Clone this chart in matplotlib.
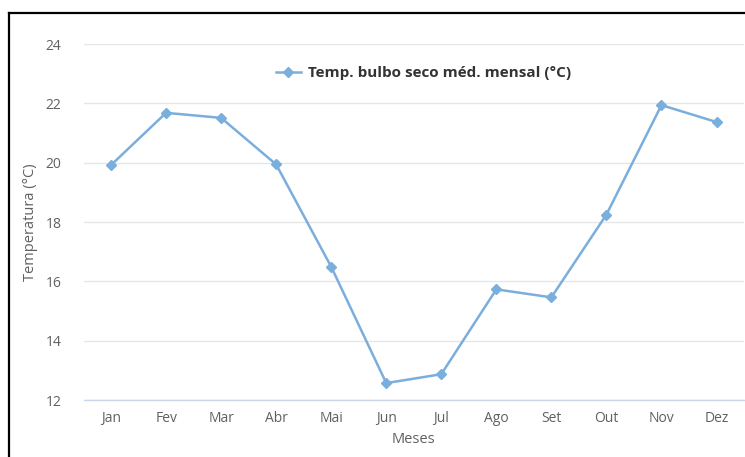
import matplotlib
matplotlib.use("Agg")
import matplotlib.pyplot as plt
from matplotlib.lines import Line2D

# monthly mean dry-bulb temperature
meses = ["Jan", "Fev", "Mar", "Abr", "Mai", "Jun", "Jul", "Ago", "Set", "Out", "Nov", "Dez"]
temperatura = [19.92, 21.68, 21.51, 19.94, 16.49, 12.57, 12.87, 15.73, 15.46, 18.25, 21.94, 21.37]
y_ticks = [12, 14, 16, 18, 20, 22, 24]

plt.rcParams['font.family'] = ['Open Sans', 'DejaVu Sans']

fig = plt.figure(figsize=(7.45, 4.57), dpi=100)
ax = fig.add_axes([0.1121, 0.1247, 0.8866, 0.779])

x = list(range(len(meses)))
ax.plot(x, temperatura, color='#7aaedc', linewidth=1.8, marker='D', markersize=5.5,
        label='Temp. bulbo seco méd. mensal (°C)')

ax.set_xlim(-0.5, len(meses) - 0.5)
ax.set_ylim(12, 24)
ax.set_xticks(x)
ax.set_xticklabels(meses)
ax.set_yticks(y_ticks)

ax.grid(axis='y', color='#e6e6e6', linewidth=1)
ax.set_axisbelow(True)
for side in ['top', 'right', 'left']:
    ax.spines[side].set_visible(False)
ax.spines['bottom'].set_color('#ccd6eb')
ax.spines['bottom'].set_linewidth(1)

ax.tick_params(axis='both', length=0, labelsize=10, labelcolor='#606060')
ax.tick_params(axis='y', pad=16)
ax.tick_params(axis='x', pad=8)

ax.set_xlabel('Meses', fontsize=10.5, color='#606060', labelpad=4)
ax.set_ylabel('Temperatura (°C)', fontsize=10.5, color='#606060', labelpad=5)

leg = ax.legend(loc='center', bbox_to_anchor=(0.515, 0.918), frameon=False,
                handlelength=1.6, handletextpad=0.5,
                prop={'weight': 'bold', 'size': 11})
for t in leg.get_texts():
    t.set_color('#333333')

# frame lines on the top and left of the screenshot
fig.add_artist(Line2D([9 / 745, 1], [1 - 13 / 457, 1 - 13 / 457], color='black', linewidth=1.6,
                      transform=fig.transFigure))
fig.add_artist(Line2D([9 / 745, 9 / 745], [0, 1 - 13 / 457], color='black', linewidth=1.6,
                      transform=fig.transFigure))

fig.savefig('out.png', dpi=100)
